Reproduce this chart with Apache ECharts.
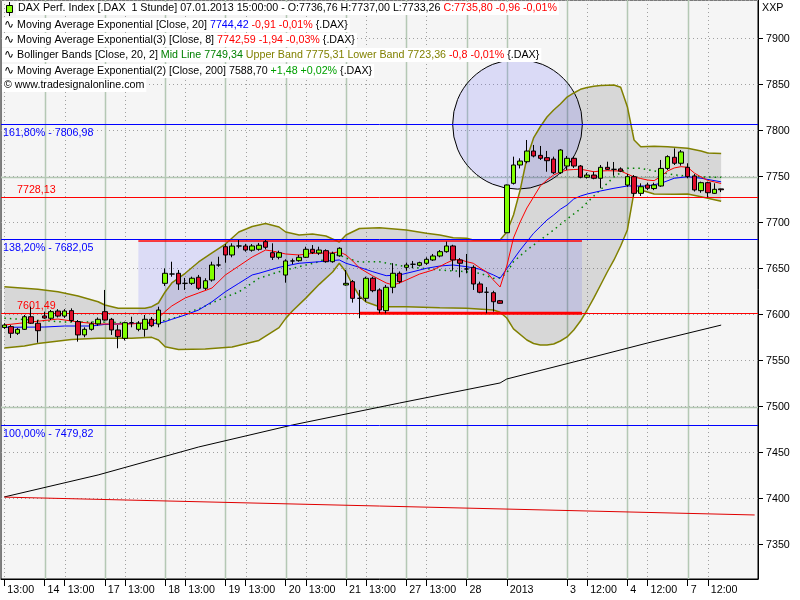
<!DOCTYPE html>
<html><head><meta charset="utf-8">
<script src="https://cdn.jsdelivr.net/npm/echarts@6/dist/echarts.min.js"></script>
<style>html,body{margin:0;padding:0;background:#fff}#c{width:800px;height:600px}</style>
</head><body><div id="c"></div>
<script>
// ---------- categories (hourly bars) ----------
const sessions = [
  ['13.12.2012', 13, 6], ['14.12.2012', 10, 9], ['17.12.2012', 10, 9], ['18.12.2012', 10, 9],
  ['19.12.2012', 10, 9], ['20.12.2012', 10, 9], ['21.12.2012', 10, 9], ['27.12.2012', 10, 9],
  ['28.12.2012', 10, 6], ['02.01.2013', 9, 9], ['03.01.2013', 9, 9], ['04.01.2013', 9, 9],
  ['07.01.2013', 10, 6]
];
const emptySlots = 5;

// ---------- tick labels ----------
const tickIndex = [0, 6, 9, 15, 18, 24, 27, 33, 36, 42, 45, 51, 54, 60, 63, 69, 75, 84, 87, 93, 96, 102, 105];
const tickText = ['13:00', '14', '13:00', '17', '13:00', '18', '13:00', '19', '13:00', '20', '13:00', '21', '13:00',
  '27', '13:00', '28', '2013', '3', '12:00', '4', '12:00', '7', '12:00'];
const daySplitIndex = [6, 15, 24, 33, 42, 51, 60, 69, 75, 84, 93, 102];
const hourSplitIndex = [0, 9, 18, 27, 36, 45, 54, 63, 87, 96, 105];
const solidLevels = [7500, 7750];

// ---------- candles ----------
const opens = [
  7586.0, 7587.0, 7579.8, 7584.1, 7597.8, 7590.7,
  7598.6, 7596.1, 7604.0, 7598.5, 7604.4, 7592.5, 7578.0, 7584.1, 7590.0,
  7603.3, 7595.0, 7583.4, 7574.3, 7591.3, 7584.1, 7584.1, 7595.0, 7589.9,
  7634.1, 7644.2, 7645.0, 7634.1, 7634.1, 7640.7, 7628.7, 7637.7, 7654.0,
  7673.9, 7664.9, 7674.7, 7674.7, 7670.1, 7671.1, 7679.4, 7667.4, 7662.4,
  7643.1, 7658.4, 7658.7, 7662.4, 7671.1, 7667.0, 7669.6, 7657.6, 7664.0,
  7632.3, 7635.9, 7617.8, 7617.8, 7639.6, 7626.9, 7604.4, 7629.8, 7645.0,
  7651.5, 7654.8, 7653.7, 7655.9, 7659.5, 7663.8, 7668.5, 7674.7, 7659.5,
  7649.7, 7651.5, 7633.4, 7624.4, 7623.9, 7615.2,
  7689.1, 7742.8, 7762.7, 7766.3, 7777.9, 7773.2, 7770.7, 7769.2, 7754.3,
  7761.6, 7770.0, 7761.6, 7749.4, 7751.8, 7748.3, 7760.2, 7758.0, 7758.5,
  7740.9, 7750.0, 7731.9, 7741.0, 7737.1, 7739.9, 7759.0, 7771.1, 7764.6,
  7760.2, 7750.8, 7734.8, 7743.5, 7731.9, 7736.76
];
const highs = [
  7590.7, 7588.8, 7585.5, 7599.7, 7608.7, 7594.2,
  7603.3, 7605.1, 7606.0, 7606.0, 7606.9, 7594.2, 7586.3, 7592.4, 7597.0,
  7626.9, 7596.5, 7588.8, 7592.4, 7597.8, 7593.0, 7599.7, 7597.5, 7608.7,
  7650.4, 7657.6, 7648.6, 7640.0, 7641.3, 7643.2, 7639.6, 7657.6, 7663.0,
  7676.8, 7677.6, 7681.2, 7677.0, 7676.8, 7678.0, 7681.2, 7677.6, 7669.6,
  7660.2, 7661.0, 7665.0, 7673.9, 7675.7, 7673.9, 7671.1, 7668.5, 7673.3,
  7648.6, 7637.7, 7626.9, 7641.3, 7641.3, 7628.7, 7632.3, 7656.0, 7647.0,
  7656.5, 7658.4, 7657.6, 7662.4, 7666.0, 7670.3, 7679.4, 7676.0, 7661.6,
  7666.0, 7653.7, 7635.9, 7630.0, 7626.0, 7616.0,
  7741.5, 7771.8, 7770.0, 7789.9, 7784.5, 7783.4, 7778.0, 7771.8, 7779.9,
  7772.5, 7772.0, 7762.7, 7754.3, 7755.4, 7762.7, 7766.3, 7766.0, 7760.2,
  7752.9, 7751.8, 7742.8, 7743.5, 7743.5, 7768.2, 7773.3, 7780.8, 7779.0,
  7764.6, 7752.9, 7744.6, 7744.6, 7742.8, 7737.00
];
const lows = [
  7584.5, 7574.7, 7578.0, 7583.4, 7589.9, 7569.6,
  7595.6, 7594.2, 7597.0, 7596.5, 7592.0, 7570.7, 7575.5, 7582.6, 7588.0,
  7593.5, 7578.0, 7563.5, 7572.0, 7586.3, 7582.0, 7576.1, 7586.5, 7586.3,
  7631.2, 7641.3, 7626.9, 7626.9, 7632.3, 7626.9, 7626.9, 7635.9, 7652.0,
  7656.5, 7662.4, 7672.2, 7668.5, 7668.5, 7669.6, 7671.1, 7659.5, 7660.2,
  7634.8, 7655.0, 7657.6, 7661.6, 7666.0, 7665.0, 7656.5, 7656.5, 7663.0,
  7631.5, 7613.1, 7596.1, 7614.1, 7624.4, 7601.5, 7601.5, 7623.3, 7634.1,
  7647.8, 7650.4, 7652.5, 7654.0, 7658.4, 7662.4, 7667.4, 7647.8, 7640.6,
  7645.0, 7626.9, 7623.3, 7601.5, 7603.3, 7612.0,
  7689.1, 7741.5, 7759.0, 7764.6, 7771.0, 7768.2, 7755.4, 7752.9, 7752.9,
  7757.3, 7759.5, 7748.3, 7748.0, 7747.2, 7737.4, 7757.3, 7751.0, 7755.0,
  7739.0, 7728.3, 7729.0, 7735.4, 7735.4, 7739.0, 7757.3, 7762.7, 7762.0,
  7748.3, 7733.9, 7732.6, 7727.6, 7731.2, 7733.26
];
const closes = [
  7588.8, 7579.8, 7584.1, 7597.8, 7590.7, 7582.6,
  7596.4, 7603.3, 7598.5, 7604.0, 7593.6, 7578.0, 7584.1, 7590.0, 7595.0,
  7594.2, 7583.4, 7576.1, 7591.3, 7591.3, 7590.7, 7595.0, 7588.0, 7605.1,
  7645.0, 7644.2, 7633.4, 7634.1, 7639.6, 7628.7, 7636.9, 7654.0, 7654.0,
  7664.9, 7674.6, 7674.7, 7670.3, 7674.7, 7675.5, 7673.3, 7662.4, 7667.4,
  7658.4, 7658.4, 7662.4, 7671.1, 7667.4, 7670.3, 7657.6, 7666.7, 7672.2,
  7634.1, 7617.8, 7617.8, 7639.6, 7626.1, 7605.1, 7629.8, 7645.0, 7635.9,
  7654.0, 7654.8, 7656.5, 7660.2, 7663.8, 7668.5, 7674.7, 7659.5, 7655.9,
  7649.7, 7633.4, 7624.4, 7624.4, 7614.1, 7612.4,
  7741.0, 7762.7, 7767.0, 7777.9, 7772.5, 7770.0, 7767.4, 7754.3, 7779.0,
  7770.0, 7761.6, 7749.4, 7751.8, 7748.3, 7760.2, 7758.0, 7758.0, 7756.0,
  7750.0, 7731.9, 7739.1, 7737.4, 7741.0, 7759.0, 7771.8, 7764.6, 7776.9,
  7750.0, 7735.6, 7743.5, 7732.6, 7736.3, 7735.80
];

// ---------- indicators [barIndex, value] ----------
const ema20 = [[0,7586.3],[6,7586.6],[9,7587.7],[13,7587.7],[15,7589.4],[19,7590.5],[23,7590.7],[24,7592.4],[25,7595.0],[27,7599.7],[29,7605.1],[31,7614.1],[33,7625.0],[35,7634.1],[37,7643.2],[38,7645.0],[41,7651.5],[44,7655.9],[47,7657.6],[50,7659.5],[51,7655.9],[53,7651.5],[55,7646.7],[57,7642.4],[59,7643.2],[61,7646.7],[63,7650.4],[65,7652.9],[67,7654.0],[69,7652.2],[71,7649.4],[73,7643.2],[74,7639.6],[75,7650.0],[76,7660.2],[77,7670.3],[78,7679.4],[79,7688.5],[80,7695.7],[81,7702.9],[82,7708.4],[83,7714.6],[84,7719.2],[85,7725.8],[86,7729.0],[87,7731.2],[89,7734.5],[91,7737.4],[93,7739.9],[96,7739.9],[98,7742.8],[100,7748.3],[102,7750.0],[104,7748.3],[107,7744.42]];
const ema8 = [[0,7588.8],[4,7592.1],[8,7595.3],[11,7592.1],[14,7589.9],[19,7589.9],[22,7592.1],[23,7596.4],[24,7603.5],[25,7609.5],[27,7618.2],[29,7623.6],[31,7629.0],[33,7643.2],[35,7652.9],[37,7662.7],[39,7670.3],[40,7669.2],[42,7666.0],[44,7664.9],[46,7666.7],[49,7667.1],[50,7668.5],[51,7664.9],[52,7658.4],[53,7650.8],[55,7642.1],[57,7634.5],[58,7632.3],[59,7634.5],[60,7637.7],[62,7644.2],[64,7648.6],[66,7656.2],[67,7659.5],[68,7660.0],[69,7657.6],[70,7655.9],[71,7650.8],[72,7646.4],[73,7637.7],[74,7630.1],[75,7652.9],[76,7683.4],[77,7700.8],[78,7716.0],[79,7727.9],[80,7739.9],[81,7746.4],[82,7751.9],[83,7755.1],[84,7757.3],[85,7757.8],[86,7758.1],[87,7756.8],[88,7755.4],[89,7756.2],[90,7756.5],[92,7756.2],[93,7752.9],[94,7749.7],[95,7748.0],[96,7746.4],[97,7745.7],[98,7750.2],[99,7756.2],[100,7759.5],[101,7760.9],[102,7760.2],[103,7754.0],[104,7749.7],[105,7745.9],[106,7744.3],[107,7742.59]];
const bbUpper = [[0,7630.4],[2,7629.3],[5,7627.6],[8,7625.0],[11,7620.3],[14,7614.1],[15,7610.5],[17,7606.9],[21,7606.9],[22,7608.7],[23,7612.7],[24,7624.7],[25,7634.5],[27,7645.0],[29,7657.3],[31,7667.1],[33,7676.8],[35,7689.9],[37,7695.9],[39,7699.1],[41,7695.3],[42,7689.9],[44,7686.6],[46,7687.7],[48,7685.5],[50,7679.0],[51,7686.6],[53,7693.7],[56,7694.6],[60,7692.1],[63,7688.5],[65,7686.6],[67,7683.7],[69,7683.0],[70,7681.2],[74,7681.2],[75,7689.9],[76,7708.4],[77,7735.6],[78,7770.3],[79,7792.1],[80,7804.3],[81,7814.9],[82,7822.5],[83,7829.0],[84,7836.6],[85,7841.0],[86,7845.0],[87,7847.0],[88,7848.4],[89,7849.0],[90,7849.5],[91,7849.7],[92,7847.2],[93,7826.1],[94,7789.9],[95,7782.6],[97,7783.0],[99,7782.5],[101,7781.5],[102,7780.9],[104,7777.9],[105,7775.8],[107,7775.31]];
const bbLower = [[0,7563.8],[3,7566.0],[5,7568.7],[10,7573.1],[14,7574.3],[19,7574.3],[22,7575.4],[23,7572.5],[24,7565.2],[26,7562.2],[30,7562.7],[34,7564.9],[38,7572.0],[41,7586.0],[42,7596.0],[43,7604.0],[45,7618.0],[47,7633.0],[49,7646.4],[50,7655.9],[51,7646.4],[52,7632.3],[53,7620.3],[54,7613.8],[56,7608.7],[60,7608.7],[65,7607.6],[69,7606.9],[73,7605.1],[74,7602.6],[75,7596.4],[76,7584.5],[78,7572.5],[79,7568.7],[80,7567.1],[81,7567.1],[82,7568.2],[83,7571.4],[84,7575.8],[85,7583.4],[86,7593.1],[87,7605.1],[88,7618.2],[89,7632.3],[90,7646.4],[91,7659.5],[92,7674.7],[93,7692.1],[94,7733.4],[95,7735.6],[97,7731.2],[100,7730.9],[102,7731.2],[104,7728.3],[107,7723.36]];
const bbMid = [[0,7596.1],[9,7592.1],[14,7592.1],[20,7591.0],[23,7590.7],[24,7594.2],[26,7597.5],[27,7601.8],[29,7606.2],[31,7612.7],[33,7619.2],[35,7624.7],[37,7634.5],[38,7639.6],[41,7646.7],[44,7652.2],[47,7657.6],[49,7664.9],[50,7664.9],[51,7661.6],[53,7657.3],[56,7657.6],[60,7652.2],[65,7648.6],[69,7646.7],[71,7645.0],[73,7639.6],[74,7639.9],[75,7645.6],[76,7657.6],[78,7670.3],[80,7681.2],[82,7692.1],[84,7704.0],[86,7715.0],[88,7729.0],[91,7749.7],[93,7759.1],[95,7759.1],[97,7756.2],[100,7751.9],[103,7750.0],[107,7749.34]];
const ema200 = [[0,7401.9],[14,7425.8],[29,7456.2],[43,7480.1],[59,7504.0],[74,7525.8],[75,7530.1],[85,7548.6],[96,7569.2],[107,7588.7]];
const trendLine = [[0,7401.7],[112,7382.3]];

// ---------- drawings ----------
const fibLevels = [7806.98, 7682.05, 7479.82];
const fibLabels = ['161,80% - 7806,98', '138,20% - 7682,05', '100,00% - 7479,82'];
const redLevels = [7728.13, 7601.49];
const redLabels = ['7728,13', '7601,49'];
const boxBars = [20, 86];
const boxValues = [7601.49, 7680.0];
const boxBottomBars = [53, 86];
const circleCenter = [76.6, 7806.98];
const circleRadius = 70.5;

// ---------- build ----------
const categories = [];
sessions.forEach(([d, h0, n]) => { for (let k = 0; k < n; k++) categories.push(d + ' ' + String(h0 + k).padStart(2, '0') + ':00'); });
for (let k = 0; k < emptySlots; k++) categories.push('~' + k);
const tickMap = {}; tickIndex.forEach((i, k) => { tickMap[i] = tickText[k]; });
const candleData = opens.map((o, i) => [o, closes[i], lows[i], highs[i]]);
const FF = '"Liberation Sans", Arial, sans-serif';
const FONT = '10.7px ' + FF;
const WAVE = '12px "DejaVu Sans", sans-serif';

function xAt(api, f) {
  const a = Math.floor(f), b = a + 1, t = f - a;
  const pa = api.coord([a, 7600])[0], pb = api.coord([b, 7600])[0];
  return pa + (pb - pa) * t;
}

const chart = echarts.init(document.getElementById('c'));
const lineS = (name, data, color, width, z, type) => ({
  type: 'line', name, data, z, silent: true, symbol: 'none', showSymbol: false,
  lineStyle: { color, width, type: type || 'solid' }, emphasis: { disabled: true }
});
const legendText = (y, text, rich) => ({ type: 'text', z: 100, x: 2, y, style: { text, font: FONT, fill: '#000',
  backgroundColor: '#fff', padding: [1, 2], rich: Object.assign({ w: { font: WAVE, fill: '#000', padding: [0, 3, 0, 0] } }, rich || {}) } });

chart.setOption({
  animation: false,
  backgroundColor: '#ffffff',
  grid: { left: 1, right: 42, top: 0, bottom: 21, show: true, backgroundColor: '#f5f5f5',
    borderColor: '#000', borderWidth: 1, containLabel: false, outerBoundsMode: 'none' },
  xAxis: {
    type: 'category', data: categories, boundaryGap: true,
    axisLine: { show: true, lineStyle: { color: '#000' } },
    axisTick: { show: true, alignWithLabel: true, length: 7, interval: (i) => tickMap[i] !== undefined, lineStyle: { color: '#000' } },
    axisLabel: { interval: (i) => tickMap[i] !== undefined, formatter: (v, i) => tickMap[i] || '',
      align: 'left', margin: 6, padding: [0, 0, 0, 3], color: '#000', fontSize: 10.7, fontFamily: FF },
    splitLine: { show: false }
  },
  yAxis: {
    type: 'value', position: 'right', min: 7312.7, max: 7942.07, minInterval: 50, maxInterval: 50,
    axisLine: { show: true, lineStyle: { color: '#000' } },
    axisTick: { show: true, length: 5, lineStyle: { color: '#000' } },
    axisLabel: { color: '#000', fontSize: 10.7, fontFamily: FF, margin: 8, showMinLabel: false, showMaxLabel: false,
      formatter: (v) => (v % 50 === 0 ? String(v) : '') },
    splitLine: { show: true, lineStyle: { color: '#a0a0a0', width: 1, type: [1, 3] } }
  },
  series: [
    { type: 'custom', name: 'grid', z: 1, silent: true, data: [[0, 7600]],
      renderItem: (params, api) => {
        const cs = params.coordSys; const ch = [];
        daySplitIndex.forEach(i => { const x = Math.round(api.coord([i, 7600])[0]) + 0.5;
          ch.push({ type: 'line', shape: { x1: x, y1: cs.y, x2: x, y2: cs.y + cs.height }, style: { stroke: '#b4c8b4', lineWidth: 1.5 } }); });
        hourSplitIndex.forEach(i => { const x = Math.round(api.coord([i, 7600])[0]) + 0.5;
          ch.push({ type: 'line', shape: { x1: x, y1: cs.y, x2: x, y2: cs.y + cs.height }, style: { stroke: '#a0a0a0', lineWidth: 1, lineDash: [1, 3] } }); });
        solidLevels.forEach(v => { const y = Math.round(api.coord([0, v])[1]) + 0.5;
          ch.push({ type: 'line', shape: { x1: cs.x, y1: y, x2: cs.x + cs.width, y2: y }, style: { stroke: '#b4c8b4', lineWidth: 1.5 } }); });
        return { type: 'group', children: ch };
      } },
    { type: 'custom', name: 'bbfill', z: 2, silent: true, data: [[0, 7600]],
      renderItem: (params, api) => {
        const pts = bbUpper.map(p => api.coord(p)).concat(bbLower.slice().reverse().map(p => api.coord(p)));
        return { type: 'polygon', shape: { points: pts }, style: { fill: 'rgba(0,0,0,0.12)' } };
      } },
    { type: 'custom', name: 'shapes', z: 3, silent: true, data: [[0, 7600]],
      renderItem: (params, api) => {
        const p0 = api.coord([boxBars[0], boxValues[1]]), p1 = api.coord([boxBars[1], boxValues[0]]);
        const cx = xAt(api, circleCenter[0]), cy = api.coord([0, circleCenter[1]])[1];
        const r = Math.abs(api.coord([0, circleCenter[1] + circleRadius])[1] - cy);
        return { type: 'group', children: [
          { type: 'rect', shape: { x: p0[0], y: p0[1], width: p1[0] - p0[0] + 1.5, height: p1[1] - p0[1] }, style: { fill: 'rgba(100,100,255,0.17)' } },
          { type: 'circle', shape: { cx, cy, r }, style: { fill: 'rgba(100,100,255,0.18)', stroke: '#000', lineWidth: 1 } }
        ] };
      } },
    lineS('BB Upper', bbUpper, '#808000', 1.5, 4),
    lineS('BB Lower', bbLower, '#808000', 1.5, 4),
    lineS('BB Mid', bbMid, '#008000', 1.5, 4, [1.5, 4]),
    lineS('EMA200', ema200, '#000000', 1, 4),
    lineS('Trend', trendLine, '#e00000', 1, 4),
    lineS('EMA20', ema20, '#0000ff', 1, 5),
    lineS('EMA8', ema8, '#ff0000', 1, 5),
    { type: 'custom', name: 'levels', z: 6, silent: true, data: [[0, 7600]],
      renderItem: (params, api) => {
        const cs = params.coordSys; const ch = [];
        fibLevels.forEach((v, k) => { const y = Math.round(api.coord([0, v])[1]) + 0.5;
          ch.push({ type: 'line', shape: { x1: cs.x, y1: y, x2: cs.x + cs.width, y2: y }, style: { stroke: '#0000ff', lineWidth: 1 } });
          ch.push({ type: 'text', x: 3, y: y + 8.5, style: { text: fibLabels[k], fill: '#0000ff', font: FONT, align: 'left', verticalAlign: 'middle' } }); });
        redLevels.forEach((v, k) => { const y = Math.round(api.coord([0, v])[1]) + 0.5;
          ch.push({ type: 'line', shape: { x1: cs.x, y1: y, x2: cs.x + cs.width, y2: y }, style: { stroke: '#ff0000', lineWidth: 1 } });
          ch.push({ type: 'text', x: 17, y: y - 7.5, style: { text: redLabels[k], fill: '#ff0000', font: FONT, align: 'left', verticalAlign: 'middle' } }); });
        const xa = api.coord([boxBars[0], 7600])[0], xb = api.coord([boxBars[1], 7600])[0] + 1.5;
        const yt = api.coord([0, boxValues[1]])[1];
        ch.push({ type: 'line', shape: { x1: xa, y1: yt, x2: xb, y2: yt }, style: { stroke: '#ff0000', lineWidth: 1.5 } });
        const xc = api.coord([boxBottomBars[0], 7600])[0], yb = api.coord([0, boxValues[0]])[1];
        ch.push({ type: 'line', shape: { x1: xc, y1: yb, x2: xb, y2: yb }, style: { stroke: '#ff0000', lineWidth: 3 } });
        return { type: 'group', children: ch };
      } },
    { type: 'candlestick', name: 'DAX', data: candleData, z: 7, silent: true, barWidth: 5,
      itemStyle: { color: '#80ff00', color0: '#e00d2b', borderColor: '#000', borderColor0: '#000', borderColorDoji: '#000', borderWidth: 1 } }
  ],
  graphic: [
    { type: 'line', z: 100, shape: { x1: 9.5, y1: 2, x2: 9.5, y2: 16 }, style: { stroke: '#000', lineWidth: 1 } },
    { type: 'rect', z: 101, shape: { x: 6.5, y: 5.5, width: 6, height: 7 }, style: { fill: '#80ff00', stroke: '#000', lineWidth: 1 } },
    { type: 'text', z: 100, x: 16, y: 2, style: { text: 'DAX Perf. Index [.DAX  1 Stunde] 07.01.2013 15:00:00 - O:7736,76 H:7737,00 L:7733,26 {r|C:7735,80 -0,96 -0,01%}',
      font: FONT, fill: '#000', backgroundColor: '#fff', padding: [1, 2], rich: { r: { fill: '#ff0000', font: FONT } } } },
    legendText(18, '{w|∿}Moving Average Exponential [Close, 20] {b|7744,42} {r|-0,91 -0,01%} {.DAX}',
      { b: { fill: '#0000ff', font: FONT }, r: { fill: '#ff0000', font: FONT } }),
    legendText(33, '{w|∿}Moving Average Exponential(3) [Close, 8] {r|7742,59 -1,94 -0,03%} {.DAX}',
      { r: { fill: '#ff0000', font: FONT } }),
    legendText(48, '{w|∿}Bollinger Bands [Close, 20, 2] {g|Mid Line 7749,34} {o|Upper Band 7775,31 Lower Band 7723,36} {r|-0,8 -0,01%} {.DAX}',
      { g: { fill: '#008000', font: FONT }, o: { fill: '#808000', font: FONT }, r: { fill: '#ff0000', font: FONT } }),
    legendText(64, '{w|∿}Moving Average Exponential(2) [Close, 200] 7588,70 {g|+1,48 +0,02%} {.DAX}',
      { g: { fill: '#00a000', font: FONT } }),
    { type: 'text', z: 100, x: 2, y: 79, style: { text: '© www.tradesignalonline.com', font: FONT, fill: '#000', backgroundColor: '#fff', padding: [1, 2] } },
    { type: 'text', z: 100, x: 762, y: 3, style: { text: 'XXP', font: FONT, fill: '#000' } }
  ]
});
</script>
</body></html>
